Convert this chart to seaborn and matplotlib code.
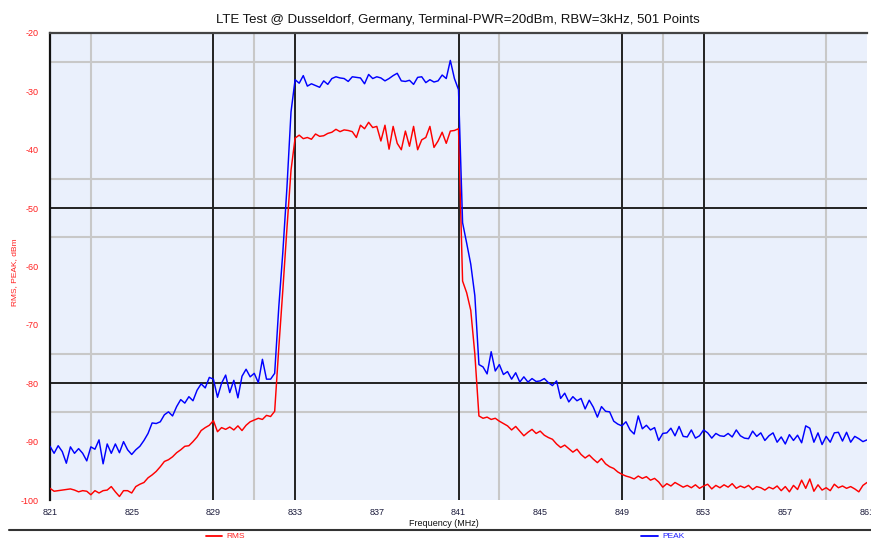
import numpy as np
import pandas as pd
import matplotlib
matplotlib.use("Agg")
import matplotlib.pyplot as plt
import seaborn as sns
from matplotlib.lines import Line2D

# sweep: 821 .. 861 MHz, values read every 0.2 MHz
f_start = 821.0
f_step = 0.2

rms_dbm = [
    -98.0, -98.5, -98.4, -98.3, -98.2, -98.1, -98.3, -98.6, -98.4, -98.5,
    -99.1, -98.4, -98.8, -98.4, -98.3, -97.7, -98.6, -99.4, -98.4, -98.4,
    -98.8, -97.7, -97.3, -97.0, -96.2, -95.7, -95.1, -94.3, -93.4, -93.1,
    -92.6, -91.9, -91.4, -90.8, -90.7, -90.0, -89.2, -88.1, -87.6, -87.2,
    -86.4, -88.3, -87.6, -87.9, -87.5, -88.0, -87.3, -88.1, -87.2, -86.6,
    -86.3, -86.0, -86.2, -85.5, -85.7, -84.8, -74.0, -64.0, -53.5, -43.5,
    -38.0, -37.5, -38.1, -37.9, -38.2, -37.3, -37.7, -37.6, -37.2, -37.0,
    -36.5, -36.9, -36.6, -36.7, -36.9, -37.9, -35.8, -36.4, -35.3, -36.2,
    -36.0, -38.5, -35.8, -39.9, -36.0, -38.9, -40.0, -36.8, -39.4, -36.0,
    -40.0, -38.3, -37.9, -36.0, -39.6, -38.5, -37.0, -38.9, -36.8, -36.7,
    -36.4, -62.5, -64.5, -67.5, -75.0, -85.6, -86.0, -85.8, -86.2, -86.0,
    -86.5, -86.9, -87.3, -88.0, -87.4, -88.2, -89.0, -88.4, -87.9, -88.6,
    -88.2, -88.9, -89.3, -89.6, -90.4, -91.0, -90.6, -91.2, -91.8, -91.3,
    -92.2, -92.8, -92.3, -93.0, -93.6, -92.9, -93.8, -94.3, -94.6, -95.2,
    -95.6, -95.9, -96.1, -96.4, -95.9, -96.3, -96.0, -96.6, -96.3, -96.9,
    -97.8, -97.2, -97.6, -97.0, -97.4, -97.8, -97.5, -97.9, -97.4, -98.0,
    -97.6, -97.3, -98.1, -97.5, -97.9, -97.4, -97.8, -97.2, -98.0, -97.6,
    -97.9, -97.5, -98.2, -97.7, -97.9, -98.3, -97.8, -98.1, -97.6, -98.4,
    -97.7, -98.6, -97.5, -98.2, -96.6, -98.0, -96.4, -98.5, -97.4, -98.3,
    -97.9, -98.4, -97.3, -97.9, -97.6, -98.0, -97.7, -98.1, -98.6, -97.5,
    -97.0,
]

peak_dbm = [
    -90.8, -92.0, -90.7, -91.7, -93.7, -90.9, -92.0, -91.2, -92.0, -93.3,
    -90.9, -91.3, -89.7, -93.8, -90.4, -92.0, -90.4, -91.9, -90.0, -91.4,
    -92.2, -91.4, -90.8, -89.8, -88.6, -86.8, -86.9, -86.6, -85.4, -84.9,
    -85.6, -84.0, -82.8, -83.4, -82.3, -83.0, -81.2, -80.1, -80.8, -79.0,
    -79.3, -82.4, -80.0, -78.6, -81.6, -79.5, -82.5, -78.8, -77.6, -78.9,
    -78.3, -79.9, -75.9, -79.3, -79.3, -78.3, -67.0, -57.5, -46.5, -33.5,
    -28.0, -28.6, -27.3, -29.1, -28.7, -29.0, -29.3, -28.2, -28.8, -27.8,
    -27.5, -27.7, -27.8, -28.3, -27.5, -27.6, -27.7, -28.7, -27.1, -27.8,
    -27.5, -27.7, -28.2, -27.8, -27.3, -26.9, -28.2, -28.3, -28.1, -28.8,
    -27.6, -27.5, -28.5, -28.0, -28.4, -28.2, -27.2, -27.8, -24.7, -27.8,
    -29.7, -52.5, -56.0, -59.6, -65.0, -76.8, -77.2, -78.4, -74.6, -77.9,
    -76.8, -78.5, -78.0, -79.3, -78.2, -79.8, -78.9, -79.8, -79.2, -79.7,
    -79.6, -79.2, -79.9, -80.4, -79.6, -82.6, -81.7, -83.2, -82.3, -83.0,
    -82.6, -84.4, -82.9, -84.1, -85.8, -84.0, -84.8, -84.9, -86.5, -87.0,
    -87.3, -86.6, -88.0, -88.7, -85.6, -87.8, -87.2, -88.0, -87.6, -89.8,
    -88.6, -88.5, -87.7, -89.0, -87.4, -89.1, -89.2, -88.0, -89.4, -89.0,
    -88.0, -88.5, -89.4, -88.6, -89.0, -89.1, -88.6, -89.2, -88.0, -89.0,
    -89.4, -89.5, -88.2, -89.1, -88.5, -89.8, -89.0, -88.5, -90.1, -89.2,
    -90.4, -88.8, -89.8, -88.9, -90.2, -87.3, -87.7, -90.1, -88.5, -90.5,
    -89.1, -90.1, -88.5, -88.4, -89.9, -88.4, -90.1, -89.1, -89.5, -90.0,
    -89.7,
]

x_ticks = [821, 825, 829, 833, 837, 841, 845, 849, 853, 857, 861]
y_ticks = [-20, -30, -40, -50, -60, -70, -80, -90, -100]
major_v = [829, 833, 841, 849, 853]
minor_v = [823, 831, 843, 851, 859]
major_h = [-50, -80]
minor_h = [-25, -45, -55, -75, -85]

title = "LTE Test @ Dusseldorf, Germany, Terminal-PWR=20dBm, RBW=3kHz, 501 Points"

freq = f_start + f_step * np.arange(len(rms_dbm))
df = pd.DataFrame({"freq": freq, "RMS": rms_dbm, "PEAK": peak_dbm})

sns.set_style("white")
plt.rcParams['font.family'] = ['Liberation Sans', 'DejaVu Sans']

fig = plt.figure(figsize=(8.71, 5.39), dpi=100)
ax = fig.add_axes([50/871, 1-500/539, 817/871, 467/539])
ax.set_facecolor('#eaf0fc')

for v in minor_v:
    ax.axvline(v, color='#c8c8c8', lw=1.5, zorder=1)
for h in minor_h:
    ax.axhline(h, color='#c8c8c8', lw=1.5, zorder=1)
for v in major_v:
    ax.axvline(v, color='#222222', lw=1.4, zorder=1.5)
for h in major_h:
    ax.axhline(h, color='#222222', lw=1.4, zorder=1.5)

sns.lineplot(data=df, x="freq", y="RMS", color='#ff0000', lw=1.05, ax=ax, zorder=3)
sns.lineplot(data=df, x="freq", y="PEAK", color='#0000ff', lw=1.05, ax=ax, zorder=4)

ax.set_xlim(821, 861)
ax.set_ylim(-100, -20)
ax.set_xticks(x_ticks)
ax.set_xticklabels([str(t) for t in x_ticks])
ax.set_yticks(y_ticks)
ax.set_yticklabels([str(t) for t in y_ticks])
ax.tick_params(axis='x', length=0, pad=6, labelsize=6.5, labelcolor='#1c1c3c')
ax.tick_params(axis='y', length=0, pad=8, labelsize=6.5, labelcolor='#ff2020')
ax.set_xlabel("")
ax.set_ylabel("")

for s in ['bottom', 'right']:
    ax.spines[s].set_visible(False)
ax.spines['left'].set_color('#111111')
ax.spines['left'].set_linewidth(1.6)
ax.spines['top'].set_color('#444444')
ax.spines['top'].set_linewidth(1.6)

fig.text(458/871, 1-20/539, title, ha='center', va='center', fontsize=9.5, color='#111111')
fig.text(444/871, 1-524/539, "Frequency (MHz)", ha='center', va='center', fontsize=6.5, color='#111111')
fig.text(15/871, 1-272/539, "RMS, PEAK, dBm", ha='center', va='center', rotation=90, fontsize=6, color='#ff2020')

# separator and legend at the bottom
fig.add_artist(Line2D([9/871, 1.0], [1-530/539, 1-530/539], color='#333333', lw=1.5))
fig.add_artist(Line2D([206/871, 222/871], [1-536/539, 1-536/539], color='#ff0000', lw=1.3))
fig.text(226/871, 1-536/539, "RMS", ha='left', va='center', fontsize=6, color='#ff2020')
fig.add_artist(Line2D([641/871, 658/871], [1-536/539, 1-536/539], color='#0000ff', lw=1.3))
fig.text(662/871, 1-536/539, "PEAK", ha='left', va='center', fontsize=6, color='#2020ff')

fig.savefig("out.png", dpi=100)
